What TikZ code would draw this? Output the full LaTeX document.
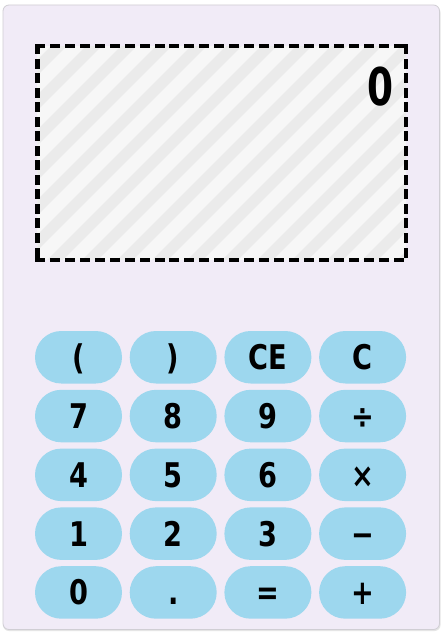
\documentclass[tikz,border=0pt]{standalone}
\usepackage{fontspec}
\usetikzlibrary{shapes.misc}
\setmainfont{DejaVu Sans}[FakeStretch=0.8]
\newfontfamily\readfont{DejaVu Sans}[FakeStretch=0.72]
\definecolor{cardbg}{RGB}{241,235,247}
\definecolor{cardline}{RGB}{208,206,212}
\definecolor{btnblue}{RGB}{157,215,238}
\definecolor{stripelight}{RGB}{247,247,247}
\definecolor{stripedark}{RGB}{235,235,235}
\tikzset{
  keybtn/.style={rounded rectangle, fill=btnblue, minimum width=87pt, minimum height=52.5pt,
    inner sep=0pt, text height=25pt, text depth=0pt, font=\fontsize{34}{40}\selectfont\bfseries, text=black},
  screenbox/.style={fill=stripelight, minimum width=368.5pt, minimum height=213.5pt, outer sep=0pt, inner sep=0pt},
  dashh/.style={line width=4.5pt, line cap=rect, dash pattern=on 5.5pt off 9.44pt},
  dashv/.style={line width=4.5pt, line cap=rect, dash pattern=on 5.5pt off 9.04pt},
}
\begin{document}
\begin{tikzpicture}[x=1pt,y=-1pt]
\useasboundingbox (0,0) rectangle (446,634);
\fill[white] (0,0) rectangle (446,634);
% card
\fill[black!10, rounded corners=6pt] (3,6.5) rectangle (440.5,631);
\draw[draw=cardline, fill=cardbg, line width=0.8pt, rounded corners=6pt] (3,5) rectangle (439.5,629.5);
% display
\node[screenbox] (screen) at (221.5,153) {};
\begin{scope}
  \clip (screen.north west) rectangle (screen.south east);
  \foreach \c in {0,35,...,735} {
    \draw[stripedark, line width=11pt] (\c,0) -- (\c-320,320);
  }
\end{scope}
\draw[dashh] (screen.north west) -- (screen.north east);
\draw[dashh] (screen.south west) -- (screen.south east);
\draw[dashv] (screen.north west) -- (screen.south west);
\draw[dashv] (screen.north east) -- (screen.south east);
\node[anchor=base east, inner sep=0pt, font=\fontsize{52}{60}\readfont\bfseries] (readout) at (394,105) {0};
% keys
\foreach \lab [count=\i from 0] in {{(},{)},{CE},{C},{7},{8},{9},{÷},{4},{5},{6},{×},{1},{2},{3},{−},{0},{.},{=},{+}} {
  \pgfmathtruncatemacro{\col}{mod(\i,4)}
  \pgfmathtruncatemacro{\row}{div(\i,4)}
  \node[keybtn] (key-\row-\col) at ({78.5+94.7*\col},{357.25+58.8*\row}) {\lab};
}
\end{tikzpicture}
\end{document}
